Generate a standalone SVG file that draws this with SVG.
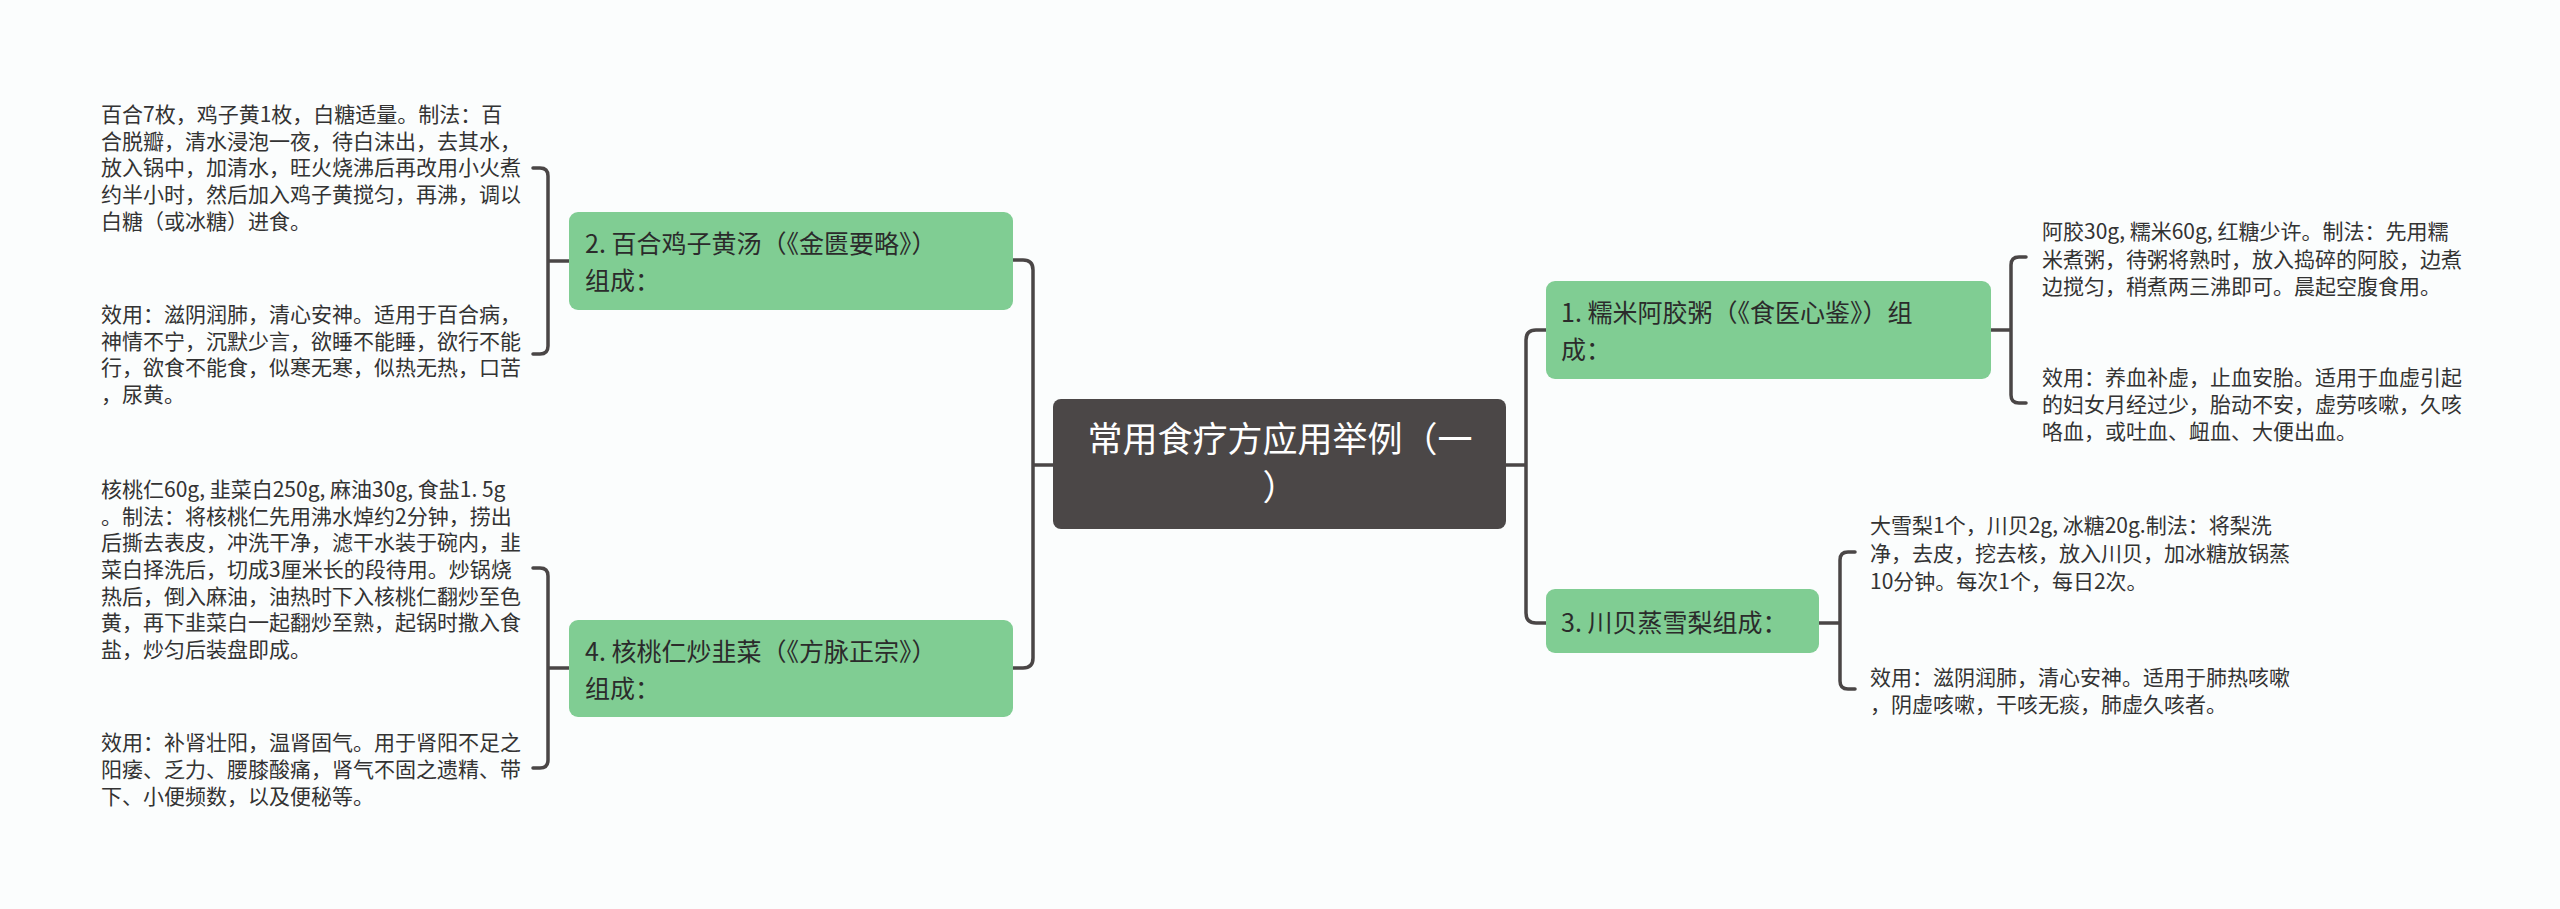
<svg xmlns="http://www.w3.org/2000/svg" width="2560" height="909" viewBox="0 0 2560 909">
<style>
.bg{fill:#fbfdfd}
.ln{fill:none;stroke:#4a4646;stroke-width:3.5;stroke-linecap:round;stroke-linejoin:round}
.sub{fill:#80cd93}
.root{fill:#4b4747}
text{font-family:"Noto Sans CJK SC","Liberation Sans",sans-serif}
.t{font-size:21px;fill:#333}
.n{font-size:25px;fill:#2b2b2b}
.r{font-size:35px;fill:#ffffff}
</style>
<rect class="bg" width="2560" height="909"/>
<g id="connectors">
<path class="ln" d="M1053,465 H1033 M1033,465 V270 Q1033,260 1023,260 H1013 M1033,465 V658 Q1033,668 1023,668 H1013"/>
<path class="ln" d="M1506,465 H1526 M1526,465 V340 Q1526,330 1536,330 H1546 M1526,465 V613 Q1526,623 1536,623 H1546"/>
<path class="ln" d="M569,261 H548 M533,168 H540 Q548,168 548,176 V346 Q548,354 540,354 H533"/>
<path class="ln" d="M569,668 H548 M533,568 H540 Q548,568 548,576 V760 Q548,768 540,768 H533"/>
<path class="ln" d="M1991,330 H2011 M2026,257 H2019 Q2011,257 2011,265 V395 Q2011,403 2019,403 H2026"/>
<path class="ln" d="M1819,623 H1840 M1855,552 H1848 Q1840,552 1840,560 V681 Q1840,689 1848,689 H1855"/>
</g>
<g id="root">
<rect class="root" x="1053" y="399" width="453" height="130" rx="8"/>
<text class="r" x="1280" y="452" text-anchor="middle">常用食疗方应用举例（一</text>
<text class="r" x="1280" y="500" text-anchor="middle">）</text>
</g>
<g id="n1">
<rect class="sub" x="1546" y="281" width="445" height="98" rx="9"/>
<text class="n"><tspan x="1561" y="322">1. 糯米阿胶粥（《食医心鉴》）组</tspan><tspan x="1561" y="359">成：</tspan></text>
</g>
<g id="n2">
<rect class="sub" x="569" y="212" width="444" height="98" rx="9"/>
<text class="n"><tspan x="585" y="253">2. 百合鸡子黄汤（《金匮要略》）</tspan><tspan x="585" y="290">组成：</tspan></text>
</g>
<g id="n3">
<rect class="sub" x="1546" y="589" width="273" height="64" rx="9"/>
<text class="n" x="1561" y="632">3. 川贝蒸雪梨组成：</text>
</g>
<g id="n4">
<rect class="sub" x="569" y="620" width="444" height="97" rx="9"/>
<text class="n"><tspan x="585" y="661">4. 核桃仁炒韭菜（《方脉正宗》）</tspan><tspan x="585" y="698">组成：</tspan></text>
</g>
<g id="n1a"><text class="t"><tspan x="2042" y="239">阿胶30g, 糯米60g, 红糖少许。制法：先用糯</tspan><tspan x="2042" y="267">米煮粥，待粥将熟时，放入捣碎的阿胶，边煮</tspan><tspan x="2042" y="294">边搅匀，稍煮两三沸即可。晨起空腹食用。</tspan></text></g>
<g id="n1b"><text class="t"><tspan x="2042" y="385">效用：养血补虚，止血安胎。适用于血虚引起</tspan><tspan x="2042" y="412">的妇女月经过少，胎动不安，虚劳咳嗽，久咳</tspan><tspan x="2042" y="439">咯血，或吐血、衄血、大便出血。</tspan></text></g>
<g id="n3a"><text class="t"><tspan x="1870" y="533">大雪梨1个，川贝2g, 冰糖20g.制法：将梨洗</tspan><tspan x="1870" y="561">净，去皮，挖去核，放入川贝，加冰糖放锅蒸</tspan><tspan x="1870" y="589">10分钟。每次1个，每日2次。</tspan></text></g>
<g id="n3b"><text class="t"><tspan x="1870" y="685">效用：滋阴润肺，清心安神。适用于肺热咳嗽</tspan><tspan x="1870" y="712">，阴虚咳嗽，干咳无痰，肺虚久咳者。</tspan></text></g>
<g id="n2a"><text class="t"><tspan x="101" y="122">百合7枚，鸡子黄1枚，白糖适量。制法：百</tspan><tspan x="101" y="149">合脱瓣，清水浸泡一夜，待白沫出，去其水，</tspan><tspan x="101" y="175">放入锅中，加清水，旺火烧沸后再改用小火煮</tspan><tspan x="101" y="202">约半小时，然后加入鸡子黄搅匀，再沸，调以</tspan><tspan x="101" y="229">白糖（或冰糖）进食。</tspan></text></g>
<g id="n2b"><text class="t"><tspan x="101" y="322">效用：滋阴润肺，清心安神。适用于百合病，</tspan><tspan x="101" y="349">神情不宁，沉默少言，欲睡不能睡，欲行不能</tspan><tspan x="101" y="375">行，欲食不能食，似寒无寒，似热无热，口苦</tspan><tspan x="101" y="402">，尿黄。</tspan></text></g>
<g id="n4a"><text class="t"><tspan x="101" y="497">核桃仁60g, 韭菜白250g, 麻油30g, 食盐1. 5g</tspan><tspan x="101" y="524">。制法：将核桃仁先用沸水焯约2分钟，捞出</tspan><tspan x="101" y="550">后撕去表皮，冲洗干净，滤干水装于碗内，韭</tspan><tspan x="101" y="577">菜白择洗后，切成3厘米长的段待用。炒锅烧</tspan><tspan x="101" y="604">热后，倒入麻油，油热时下入核桃仁翻炒至色</tspan><tspan x="101" y="630">黄，再下韭菜白一起翻炒至熟，起锅时撒入食</tspan><tspan x="101" y="657">盐，炒匀后装盘即成。</tspan></text></g>
<g id="n4b"><text class="t"><tspan x="101" y="750">效用：补肾壮阳，温肾固气。用于肾阳不足之</tspan><tspan x="101" y="777">阳痿、乏力、腰膝酸痛，肾气不固之遗精、带</tspan><tspan x="101" y="804">下、小便频数，以及便秘等。</tspan></text></g>
</svg>
